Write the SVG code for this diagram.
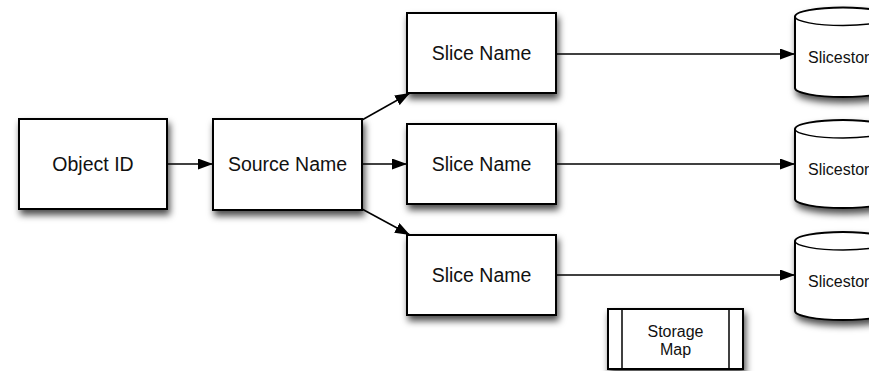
<svg xmlns="http://www.w3.org/2000/svg" width="869" height="371" viewBox="0 0 869 371">
  <defs>
    <filter id="shadow" x="-20%" y="-20%" width="150%" height="170%">
      <feDropShadow dx="2" dy="5" stdDeviation="3.5" flood-color="#000" flood-opacity="0.7"/>
    </filter>
    <marker id="arrow" viewBox="0 0 15 11" refX="15" refY="5.5" markerWidth="15" markerHeight="11" markerUnits="userSpaceOnUse" orient="auto">
      <path d="M0,0 L15,5.5 L0,11 Z" fill="#000"/>
    </marker>
  </defs>
  <style>
    .box { fill: #fff; stroke: #000; stroke-width: 2; filter: url(#shadow); }
    .edge { fill: none; stroke: #000; stroke-width: 1.5; marker-end: url(#arrow); }
    .label { font-family: "Liberation Sans", Arial, sans-serif; font-size: 19.5px; fill: #111; text-anchor: middle; }
    .small { font-family: "Liberation Sans", Arial, sans-serif; font-size: 16px; fill: #111; }
    .line { fill: none; stroke: #000; stroke-width: 1.5; }
  </style>
  <rect width="869" height="371" fill="#fff"/>

  <g id="connectors">
    <line class="edge" x1="167" y1="164" x2="213" y2="164"/>
    <line class="edge" x1="362" y1="120" x2="410" y2="93"/>
    <line class="edge" x1="362" y1="164" x2="407" y2="164"/>
    <line class="edge" x1="362" y1="209" x2="410" y2="235"/>
    <line class="edge" x1="556" y1="54" x2="795" y2="54"/>
    <line class="edge" x1="556" y1="164" x2="795" y2="164"/>
    <line class="edge" x1="556" y1="275" x2="795" y2="275"/>
  </g>

  <g id="object-id">
    <rect class="box" x="19" y="119" width="148" height="90"/>
    <text class="label" x="93" y="171">Object ID</text>
  </g>

  <g id="source-name">
    <rect class="box" x="213" y="119" width="149" height="91"/>
    <text class="label" x="287.5" y="171">Source Name</text>
  </g>

  <g id="slice-name-1">
    <rect class="box" x="407" y="13" width="149" height="80"/>
    <text class="label" x="481.5" y="60">Slice Name</text>
  </g>
  <g id="slice-name-2">
    <rect class="box" x="407" y="124" width="149" height="80"/>
    <text class="label" x="481.5" y="171">Slice Name</text>
  </g>
  <g id="slice-name-3">
    <rect class="box" x="407" y="235" width="149" height="80"/>
    <text class="label" x="481.5" y="282">Slice Name</text>
  </g>

  <g id="slicestore-1">
    <path class="box" d="M795,16.5 A48,9 0 0 1 891,16.5 L891,88 A48,9 0 0 1 795,88 Z"/>
    <path class="line" d="M795,16.5 A48,9 0 0 0 891,16.5"/>
    <text class="small" x="808" y="63">Slicestore</text>
  </g>
  <g id="slicestore-2">
    <path class="box" d="M795,129 A48,9 0 0 1 891,129 L891,199 A48,9 0 0 1 795,199 Z"/>
    <path class="line" d="M795,129 A48,9 0 0 0 891,129"/>
    <text class="small" x="808" y="175">Slicestore</text>
  </g>
  <g id="slicestore-3">
    <path class="box" d="M795,241 A48,9 0 0 1 891,241 L891,311 A48,9 0 0 1 795,311 Z"/>
    <path class="line" d="M795,241 A48,9 0 0 0 891,241"/>
    <text class="small" x="808" y="287">Slicestore</text>
  </g>

  <g id="storage-map">
    <rect class="box" x="608" y="309" width="135" height="60"/>
    <line class="line" x1="622" y1="309" x2="622" y2="369"/>
    <line class="line" x1="729" y1="309" x2="729" y2="369"/>
    <text class="small" x="675.5" y="336.5" text-anchor="middle">Storage</text>
    <text class="small" x="675.5" y="355" text-anchor="middle">Map</text>
  </g>
</svg>
